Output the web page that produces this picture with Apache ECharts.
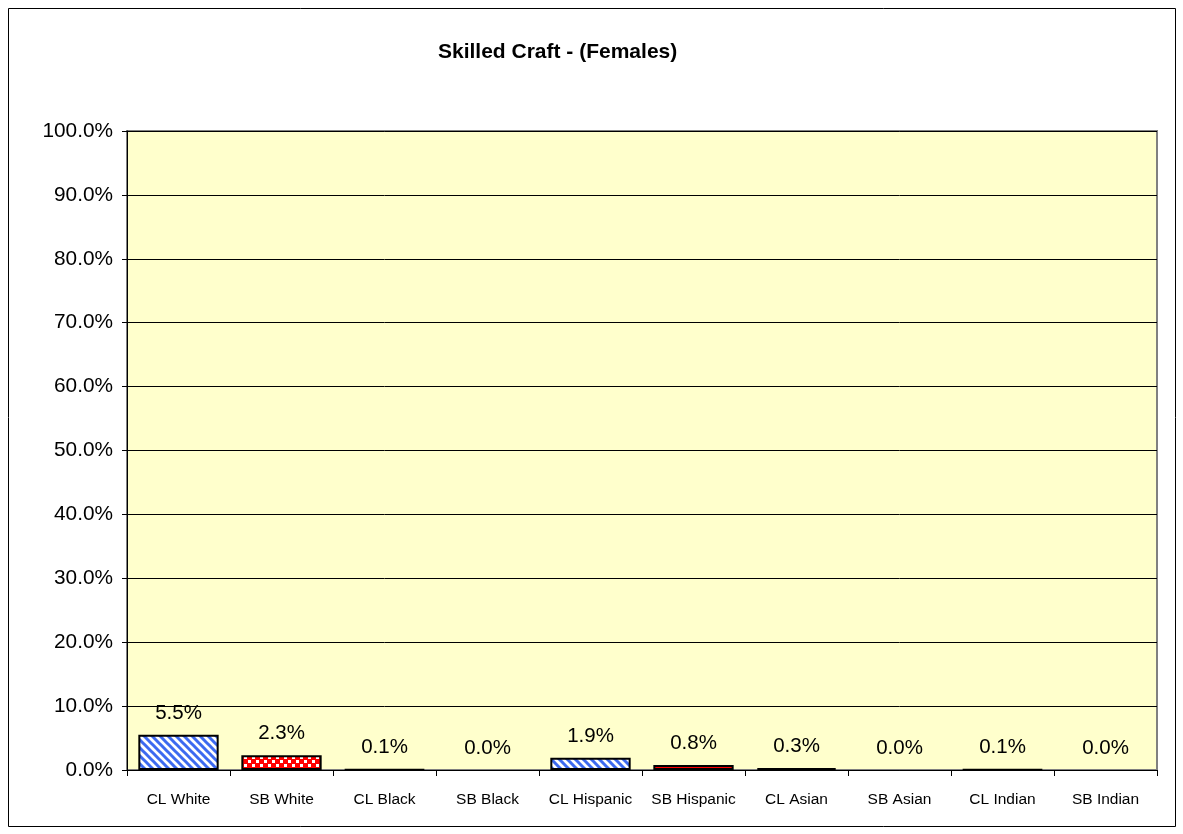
<!DOCTYPE html>
<html>
<head>
<meta charset="utf-8">
<script src="https://cdn.jsdelivr.net/npm/echarts@6/dist/echarts.min.js"></script>
<style>
  html, body { margin: 0; padding: 0; background: #fff; }
  #chart { width: 1183px; height: 834px; }
</style>
</head>
<body>
<div id="chart"></div>
<script>
  // categories and values (percent)
  var categories = ['CL White', 'SB White', 'CL Black', 'SB Black', 'CL Hispanic',
    'SB Hispanic', 'CL Asian', 'SB Asian', 'CL Indian', 'SB Indian'];
  var values = [5.5, 2.3, 0.1, 0.0, 1.9, 0.8, 0.3, 0.0, 0.1, 0.0];
  // fill kind per bar: CL = blue stripes, SB = red checks
  var fillKinds = ['blue', 'red', 'blue', 'red', 'blue', 'red', 'blue', 'red', 'blue', 'red'];

  function stripePattern() {
    var c = document.createElement('canvas');
    c.width = 8; c.height = 8;
    var ctx = c.getContext('2d');
    ctx.fillStyle = '#ffffff';
    ctx.fillRect(0, 0, 8, 8);
    ctx.strokeStyle = '#3d6af0';
    ctx.lineWidth = 3;
    for (var k = -8; k <= 8; k += 8) {
      ctx.beginPath();
      ctx.moveTo(k - 2, -2);
      ctx.lineTo(k + 10, 10);
      ctx.stroke();
    }
    return c;
  }

  function checkPattern() {
    var c = document.createElement('canvas');
    c.width = 8; c.height = 8;
    var ctx = c.getContext('2d');
    ctx.fillStyle = '#ff0000';
    ctx.fillRect(0, 0, 8, 8);
    ctx.fillStyle = '#ffffff';
    ctx.fillRect(0, 0, 3, 3);
    ctx.fillRect(4, 4, 3, 3);
    return c;
  }

  var blueFill = { image: stripePattern(), repeat: 'repeat' };
  var redFill = { image: checkPattern(), repeat: 'repeat' };

  var barData = values.map(function (v, i) {
    return {
      value: v,
      itemStyle: {
        color: fillKinds[i] === 'blue' ? blueFill : redFill,
        borderWidth: v > 0 ? 2 : 0
      }
    };
  });

  var myChart = echarts.init(document.getElementById('chart'));
  var option = {
    animation: false,
    backgroundColor: '#ffffff',
    graphic: [
      {
        type: 'rect',
        shape: { x: 8.5, y: 8.5, width: 1167, height: 818 },
        style: { fill: 'none', stroke: '#000', lineWidth: 1 },
        z: -1
      },
      {
        type: 'text',
        left: 438,
        top: 42,
        style: {
          text: 'Skilled Craft - (Females)',
          font: 'bold 21px "Liberation Sans", Arial, sans-serif',
          fill: '#000'
        }
      }
    ],
    grid: {
      left: 127,
      right: 26,
      top: 131,
      bottom: 64,
      show: true,
      backgroundColor: '#ffffcc',
      borderColor: '#808080',
      borderWidth: 2
    },
    xAxis: {
      type: 'category',
      data: categories,
      axisLine: { lineStyle: { color: '#000', width: 1 } },
      axisTick: { show: true, length: 6, lineStyle: { color: '#000' } },
      axisLabel: {
        interval: 0,
        color: '#000',
        fontFamily: '"Liberation Sans", Arial, sans-serif',
        fontSize: 15.5,
        margin: 22
      }
    },
    yAxis: {
      type: 'value',
      min: 0,
      max: 100,
      interval: 10,
      axisLine: { show: true, lineStyle: { color: '#000', width: 1 } },
      axisTick: { show: true, length: 5, lineStyle: { color: '#000' } },
      splitLine: { lineStyle: { color: '#000', width: 1 } },
      axisLabel: {
        color: '#000',
        fontFamily: '"Liberation Sans", Arial, sans-serif',
        fontSize: 20.8,
        margin: 14,
        formatter: function (v) { return v.toFixed(1) + '%'; }
      }
    },
    series: [
      {
        type: 'bar',
        data: barData,
        barCategoryGap: '22%',
        itemStyle: { borderColor: '#000' },
        label: {
          show: true,
          position: 'top',
          distance: 11,
          color: '#000',
          fontFamily: '"Liberation Sans", Arial, sans-serif',
          fontSize: 20.5,
          formatter: function (p) { return p.value.toFixed(1) + '%'; }
        }
      }
    ]
  };
  myChart.setOption(option);
</script>
</body>
</html>
